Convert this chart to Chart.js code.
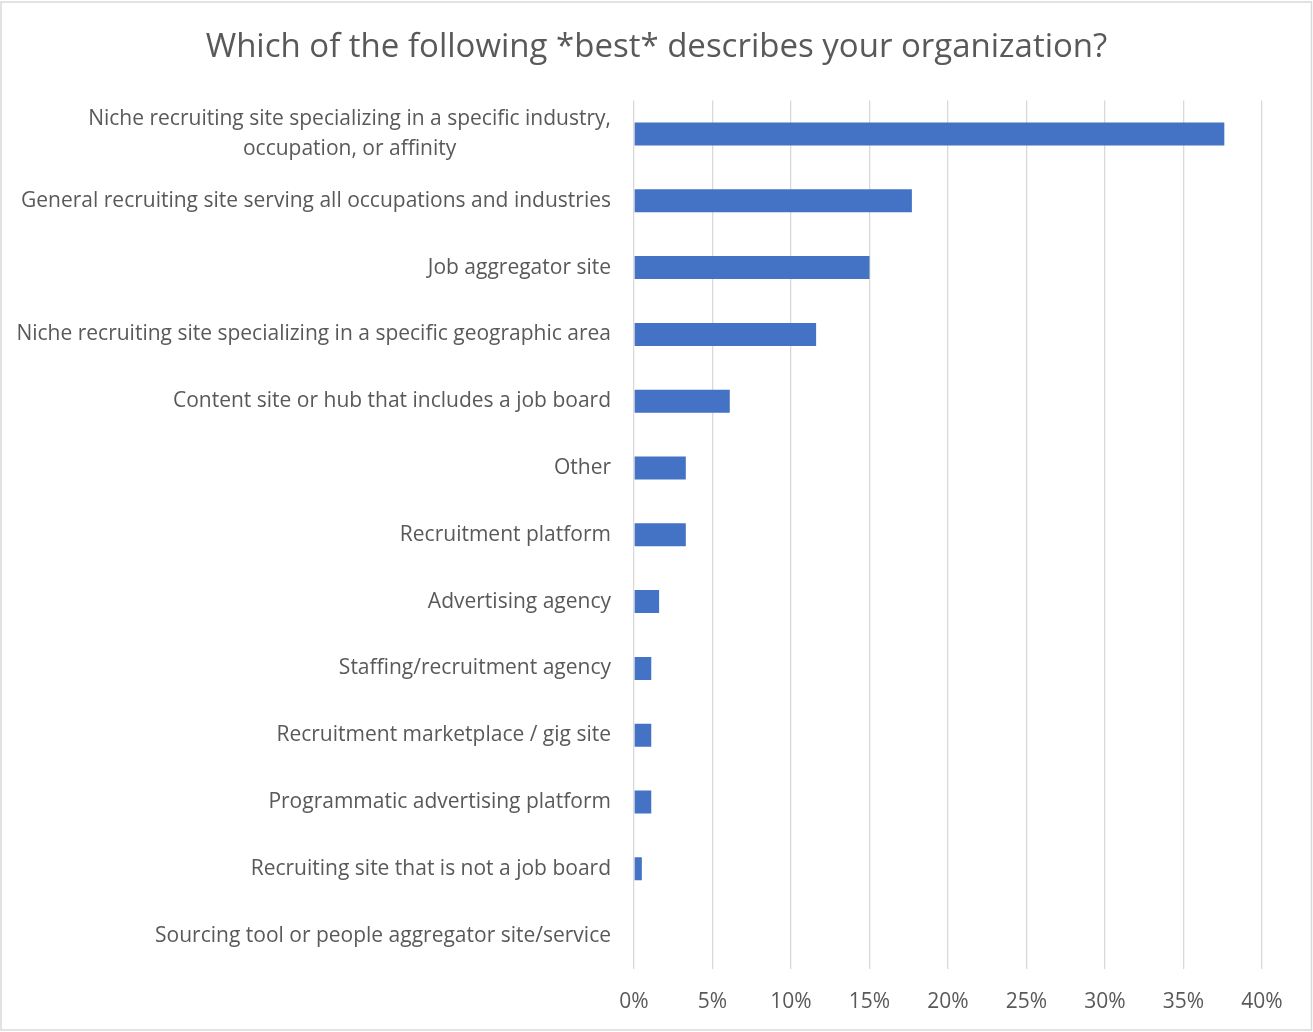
<!DOCTYPE html>
<html>
<head>
<meta charset="utf-8">
<script src="https://cdn.jsdelivr.net/npm/chart.js@4.4.1/dist/chart.umd.min.js"></script>
<style>
  html, body { margin: 0; padding: 0; background: #ffffff; }
  #wrap { position: absolute; left: 0; top: 0; width: 1313px; height: 1032px; }
</style>
</head>
<body>
<div id="wrap"><canvas id="chart" width="1313" height="1032"></canvas></div>
<script>
// Survey answers, one bar per organization type
const categories = [
  ["Niche recruiting site specializing in a specific industry,", "occupation, or affinity"],
  "General recruiting site serving all occupations and industries",
  "Job aggregator site",
  "Niche recruiting site specializing in a specific geographic area",
  "Content site or hub that includes a job board",
  "Other",
  "Recruitment platform",
  "Advertising agency",
  "Staffing/recruitment agency",
  "Recruitment marketplace / gig site",
  "Programmatic advertising platform",
  "Recruiting site that is not a job board",
  "Sourcing tool or people aggregator site/service"
];
// Share of respondents, in percent
const shares = [37.6, 17.7, 15.0, 11.6, 6.1, 3.3, 3.3, 1.6, 1.1, 1.1, 1.1, 0.5, 0];
// Value axis ticks
const axisMin = 0;
const axisMax = 40;
const axisStep = 5;

const FONT = "'Open Sans', 'Noto Sans', sans-serif";
const TEXT = '#595959';

// Category labels: right-aligned, wrapped labels centred on their widest line
const categoryLabels = {
  id: 'categoryLabels',
  afterDraw(chart) {
    const { ctx } = chart;
    const yScale = chart.scales.y;
    const xRight = yScale.right - 23;
    const lineH = 30;
    ctx.save();
    ctx.font = "21px " + FONT;
    ctx.fillStyle = TEXT;
    ctx.textBaseline = 'middle';
    categories.forEach((lab, i) => {
      const y = yScale.getPixelForValue(i);
      const lines = Array.isArray(lab) ? lab : [lab];
      const widths = lines.map(l => ctx.measureText(l).width);
      const maxW = Math.max(...widths);
      const top = y - (lines.length - 1) * lineH / 2;
      lines.forEach((l, k) => {
        if (lines.length > 1) {
          ctx.textAlign = 'center';
          ctx.fillText(l, xRight - maxW / 2, top + k * lineH);
        } else {
          ctx.textAlign = 'right';
          ctx.fillText(l, xRight, top);
        }
      });
    });
    ctx.restore();
  }
};

// Thin frame round the whole chart
const frame = {
  id: 'frame',
  afterDraw(chart) {
    const { ctx, width, height } = chart;
    ctx.save();
    ctx.strokeStyle = '#d9d9d9';
    ctx.lineWidth = 1.5;
    ctx.strokeRect(1, 2, width - 2.5, height - 4);
    ctx.restore();
  }
};

new Chart(document.getElementById('chart'), {
  type: 'bar',
  data: {
    labels: categories,
    datasets: [{
      data: shares,
      backgroundColor: '#4472c4',
      borderWidth: 0,
      categoryPercentage: 1.0,
      barPercentage: 0.345
    }]
  },
  options: {
    indexAxis: 'y',
    responsive: false,
    animation: false,
    layout: { padding: 0 },
    plugins: {
      legend: { display: false },
      tooltip: { enabled: false },
      title: {
        display: true,
        text: 'Which of the following *best* describes your organization?',
        color: TEXT,
        font: { family: FONT, size: 33, weight: 'normal' },
        padding: { top: 28, bottom: 33 }
      }
    },
    scales: {
      x: {
        min: axisMin,
        max: axisMax,
        border: { display: false },
        grid: { color: '#d9d9d9', lineWidth: 1.3, drawTicks: false },
        ticks: {
          stepSize: axisStep,
          padding: 20,
          color: TEXT,
          font: { family: FONT, size: 21 },
          callback: v => v + '%'
        },
        afterFit(scale) { scale.height = 63; }
      },
      y: {
        border: { display: false },
        grid: { display: false, drawTicks: false },
        ticks: { display: false },
        afterFit(scale) { scale.width = 634; }
      },
      // empty margin on the right of the plot
      yRight: {
        type: 'linear',
        position: 'right',
        border: { display: false },
        grid: { display: false, drawTicks: false },
        ticks: { display: false },
        afterFit(scale) { scale.width = 51; }
      }
    }
  },
  plugins: [categoryLabels, frame]
});
</script>
</body>
</html>
